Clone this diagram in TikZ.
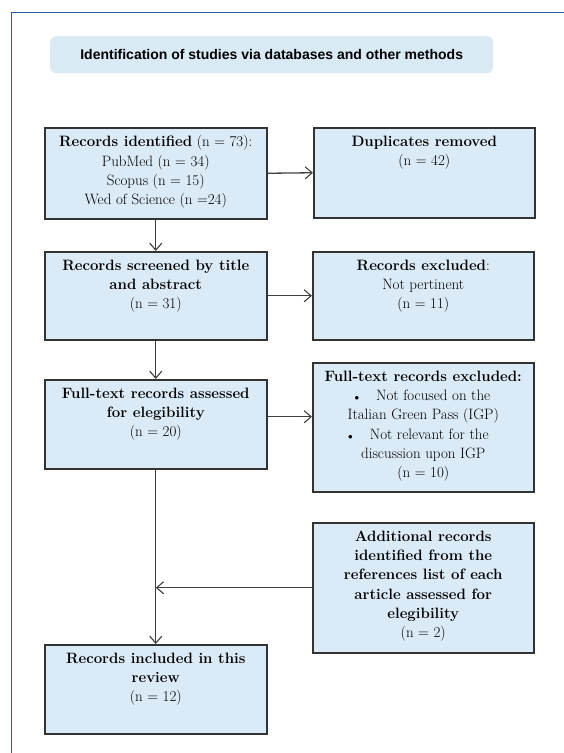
\documentclass[tikz,border=0pt]{standalone}
\usepackage{fontspec}
\newfontfamily\titlefont{Liberation Sans}
\usetikzlibrary{arrows.meta,positioning,calc}
\definecolor{frameblue}{HTML}{1F5FA8}
\definecolor{boxfill}{HTML}{DAEAF6}
\definecolor{titlefill}{HTML}{D9EAF5}
\definecolor{edge}{HTML}{333333}
\definecolor{linegray}{HTML}{404040}
\newcommand{\blt}{\llap{{\small$\bullet$}\hspace{17pt}}}
\tikzset{
  box/.style={draw=edge, line width=1.5pt, fill=boxfill, anchor=north west, inner sep=0pt},
  txt/.style={anchor=north, inner sep=0pt, align=center, font=\fontsize{15}{19.3}\selectfont},
  arr/.style={draw=linegray, line width=1.3pt, -{Straight Barb[length=7pt,width=12pt,line width=1.1pt]}},
  titlebox/.style={fill=titlefill, rounded corners=6pt, anchor=north west, inner sep=0pt,
    font=\titlefont\bfseries\fontsize{14}{16}\selectfont},
}
\begin{document}
\begin{tikzpicture}[x=1pt,y=-1pt]
\useasboundingbox (0,0) rectangle (563,753);
\draw[frameblue, line width=1.5pt] (11.5,760) -- (11.5,12.5) -- (570,12.5);
\node[titlebox, minimum width=443pt, minimum height=37pt] (title) at (50,36)
  {Identification of studies via databases and other methods};

\node[box, minimum width=222pt, minimum height=91pt] (b1) at (44,127) {};
\node[box, minimum width=221pt, minimum height=90pt] (b2) at (313,127) {};
\node[box, minimum width=222pt, minimum height=88pt] (b3) at (44,251) {};
\node[box, minimum width=221pt, minimum height=88pt] (b4) at (312,251) {};
\node[box, minimum width=222pt, minimum height=89pt] (b5) at (44,379) {};
\node[box, minimum width=221pt, minimum height=129pt] (b6) at (312,362) {};
\node[box, minimum width=221pt, minimum height=130pt] (b7) at (312,522) {};
\node[box, minimum width=222pt, minimum height=89pt] (b8) at (44,644) {};

\node[txt] (t1) at ([yshift=-8.5pt]b1.north)
  {\textbf{Records identified} (n = 73):\\ PubMed (n = 34)\\ Scopus (n = 15)\\ Wed of Science (n =24)};
\node[txt] (t2) at ([yshift=-8.5pt]b2.north)
  {\textbf{Duplicates removed}\\ (n = 42)};
\node[txt] (t3) at ([yshift=-8.5pt]b3.north)
  {\textbf{Records screened by title}\\ \textbf{and abstract}\\ (n = 31)};
\node[txt] (t4) at ([yshift=-8.5pt]b4.north)
  {\textbf{Records excluded}:\\ Not pertinent\\ (n = 11)};
\node[txt] (t5) at ([yshift=-8.5pt]b5.north)
  {\textbf{Full-text records assessed}\\ \textbf{for elegibility}\\ (n = 20)};
\node[txt] (t6) at ([yshift=-8.5pt]b6.north)
  {\textbf{Full-text records excluded:}\\
   \hspace*{20pt}\blt Not focused on the\\
   Italian Green Pass (IGP)\\
   \hspace*{12pt}\blt Not relevant for the\\
   discussion upon IGP\\
   (n = 10)};
\node[txt] (t7) at ([yshift=-8.5pt]b7.north)
  {\textbf{Additional records}\\ \textbf{identified from the}\\ \textbf{references list of each}\\ \textbf{article assessed for}\\ \textbf{elegibility}\\ (n = 2)};
\node[txt] (t8) at ([yshift=-8.5pt]b8.north)
  {\textbf{Records included in this}\\ \textbf{review}\\ (n = 12)};

\draw[arr] (b1.east) -- (b2.west);
\draw[arr] (b1.south) -- (b3.north);
\draw[arr] (b3.east) -- (b4.west);
\draw[arr] (b3.south) -- (b5.north);
\draw[arr] ([yshift=7.5pt]b5.east) -- ([yshift=7.5pt]b5.east -| b6.west);
\draw[arr] (b5.south) -- (b8.north);
\draw[arr] (b7.west) -- (b7.west -| b5.south);
\end{tikzpicture}
\end{document}
